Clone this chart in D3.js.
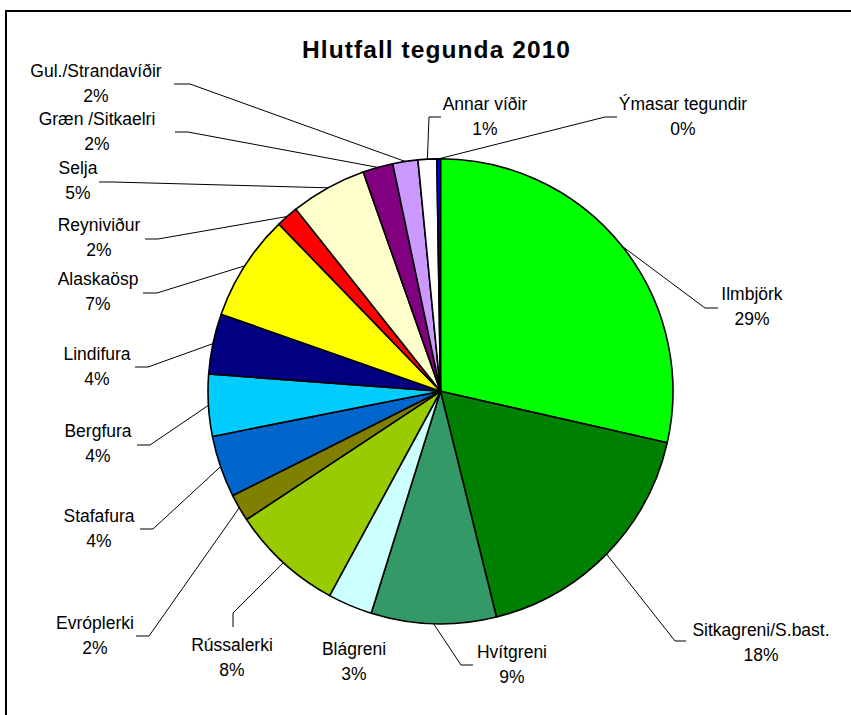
<!DOCTYPE html>
<html>
<head>
<meta charset="utf-8">
<script src="https://cdn.jsdelivr.net/npm/d3@7"></script>
<style>
  body { margin: 0; background: #fff; }
  text { font-family: "Liberation Sans", Arial, sans-serif; fill: #000; }
</style>
</head>
<body>
<svg id="chart" width="851" height="715"></svg>
<script>
// data, clockwise from 12 o'clock
var species = ["Ilmbjörk", "Sitkagreni/S.bast.", "Hvítgreni", "Blágreni", "Rússalerki",
  "Evróplerki", "Stafafura", "Bergfura", "Lindifura", "Alaskaösp", "Reyniviður",
  "Selja", "Græn /Sitkaelri", "Gul./Strandavíðir", "Annar víðir", "Ýmasar tegundir"];
var shares = [28.6, 17.6, 8.7, 3.1, 7.8, 1.9, 4.3, 4.3, 4.2, 7.4, 1.55, 5.3, 2.1, 1.75, 1.3, 0.25];
var colors = ["#00ff00", "#008000", "#339966", "#ccffff", "#99cc00", "#808000", "#0066cc",
  "#00ccff", "#000080", "#ffff00", "#ff0000", "#ffffcc", "#800080", "#cc99ff", "#ffffff", "#0000ff"];

// label placement (text centre, first baseline, leader knee + end)
var labelLayout = {
  "Ilmbjörk":          {x: 752, y: 300, lead: [[705, 308], [718, 308]]},
  "Sitkagreni/S.bast.": {x: 761, y: 636, lead: [[675, 641], [686, 641]]},
  "Hvítgreni":         {x: 512, y: 658, lead: [[461, 665], [473, 665]]},
  "Blágreni":          {x: 354, y: 655, lead: null},
  "Rússalerki":        {x: 232, y: 651, lead: [[233, 613], [233, 627]]},
  "Evróplerki":        {x: 95,  y: 629, lead: [[149, 636], [136, 636]]},
  "Stafafura":         {x: 99,  y: 522, lead: [[153, 529], [140, 529]]},
  "Bergfura":          {x: 98,  y: 437, lead: [[150, 445], [137, 445]]},
  "Lindifura":         {x: 97,  y: 360, lead: [[148, 367], [135, 367]]},
  "Alaskaösp":         {x: 98,  y: 285, lead: [[157, 293], [143, 293]]},
  "Reyniviður":        {x: 99,  y: 231, lead: [[158, 239], [145, 239]]},
  "Selja":             {x: 78,  y: 174, lead: [[113, 182], [99, 182]]},
  "Græn /Sitkaelri":   {x: 97,  y: 125, lead: [[188, 132], [175, 132]]},
  "Gul./Strandavíðir": {x: 96,  y: 77,  lead: [[190, 84], [174, 84]]},
  "Annar víðir":       {x: 485, y: 110, lead: [[429, 117], [441, 117]]},
  "Ýmasar tegundir":   {x: 683, y: 110, lead: [[605, 117], [617, 117]]}
};

var svg = d3.select("#chart");
var cx = 440.5, cy = 391.3, r = 232.5;

// chart frame (only top and left edges fall inside the picture)
svg.append("rect")
  .attr("x", 6).attr("y", 11)
  .attr("width", 900).attr("height", 800)
  .attr("fill", "none").attr("stroke", "#000").attr("stroke-width", 2);

svg.append("text")
  .attr("x", 436).attr("y", 58)
  .attr("text-anchor", "middle")
  .style("font-size", "24.5px").style("font-weight", "bold")
  .attr("textLength", 268).attr("lengthAdjust", "spacing")
  .text("Hlutfall tegunda 2010");

var total = d3.sum(shares);
var rows = species.map(function(s, i){
  return {name: s, value: shares[i], color: colors[i]};
});

var pie = d3.pie().sort(null).value(function(d){ return d.value; });
var arcs = pie(rows);
var arc = d3.arc().innerRadius(0).outerRadius(r);
var edge = d3.arc().innerRadius(r).outerRadius(r);

var g = svg.append("g").attr("transform", "translate(" + cx + "," + cy + ")");

g.selectAll("path.slice")
  .data(arcs)
  .enter().append("path")
  .attr("class", "slice")
  .attr("d", arc)
  .attr("fill", function(d){ return d.data.color; })
  .attr("stroke", "#000")
  .attr("stroke-width", 1.6)
  .attr("stroke-linejoin", "round");

// leader lines from slice edge to label
arcs.forEach(function(d){
  var lay = labelLayout[d.data.name];
  if (!lay.lead) return;
  var p = edge.centroid(d);
  var pts = [[cx + p[0], cy + p[1]]].concat(lay.lead);
  svg.append("path")
    .attr("d", d3.line()(pts))
    .attr("fill", "none")
    .attr("stroke", "#000")
    .attr("stroke-width", 1);
});

// labels
arcs.forEach(function(d){
  var lay = labelLayout[d.data.name];
  var t = svg.append("text")
    .attr("text-anchor", "middle")
    .style("font-size", "17.5px");
  t.append("tspan").attr("x", lay.x).attr("y", lay.y).text(d.data.name);
  t.append("tspan").attr("x", lay.x).attr("y", lay.y + 25)
    .text(Math.round(d.data.value / total * 100) + "%");
});
</script>
</body>
</html>
